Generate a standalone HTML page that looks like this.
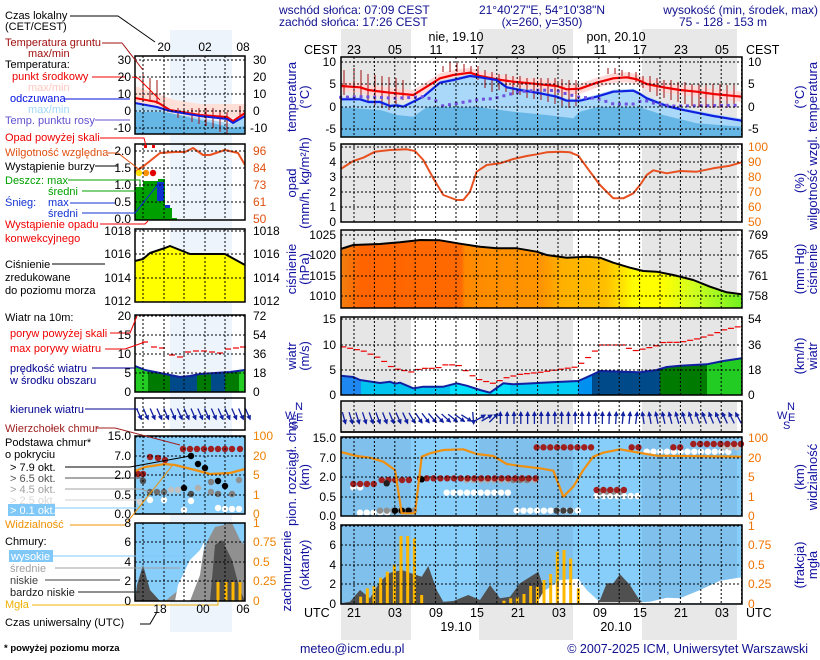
<!DOCTYPE html>
<html><head><meta charset="utf-8"><style>
html,body{margin:0;padding:0;background:#fff;width:820px;height:660px;overflow:hidden}
svg{display:block;font-family:"Liberation Sans",sans-serif;font-size:12px}
</style></head><body>
<svg id="s" width="820" height="660" viewBox="0 0 820 660" xmlns="http://www.w3.org/2000/svg">
<g id="bg"></g>
<g id="g"></g>
<g id="t" fill="#000">
<g fill="#101090" font-size="12">
<text x="279" y="14">wschód słońca: 07:09 CEST</text>
<text x="279" y="26">zachód słońca: 17:26 CEST</text>
<text x="542" y="14" text-anchor="middle">21°40'27"E, 54°10'38"N</text>
<text x="542" y="26" text-anchor="middle">(x=260,  y=350)</text>
<text x="818" y="14" text-anchor="end">wysokość (min, środek, max)</text>
<text x="723" y="26" text-anchor="middle">75 - 128 - 153 m</text>
</g>
<g font-size="12.5">
<text x="456" y="41" text-anchor="middle">nie, 19.10</text>
<text x="616" y="41" text-anchor="middle">pon, 20.10</text>
<text x="304" y="54">CEST</text><text x="746" y="54">CEST</text>
<g text-anchor="middle">
<text x="354" y="54">23</text><text x="395" y="54">05</text><text x="436" y="54">11</text><text x="477" y="54">17</text><text x="518" y="54">23</text><text x="559" y="54">05</text><text x="600" y="54">11</text><text x="640" y="54">17</text><text x="681" y="54">23</text><text x="722" y="54">05</text>
<text x="354" y="617">21</text><text x="395" y="617">03</text><text x="436" y="617">09</text><text x="477" y="617">15</text><text x="518" y="617">21</text><text x="559" y="617">03</text><text x="600" y="617">09</text><text x="640" y="617">15</text><text x="681" y="617">21</text><text x="722" y="617">03</text>
<text x="456" y="631">19.10</text><text x="616" y="631">20.10</text>
</g>
<text x="304" y="617">UTC</text><text x="746" y="617">UTC</text>
</g>
<g text-anchor="end">
<text x="336" y="66">10</text><text x="336" y="88">5</text><text x="336" y="111">0</text><text x="336" y="133">-5</text>
<text x="336" y="151">5</text><text x="336" y="166">4</text><text x="336" y="181">3</text><text x="336" y="196">2</text><text x="336" y="211">1</text><text x="336" y="226">0</text>
<text x="336" y="239">1025</text><text x="336" y="259">1020</text><text x="336" y="280">1015</text><text x="336" y="300">1010</text>
<text x="336" y="323">15</text><text x="336" y="349">10</text><text x="336" y="374">5</text><text x="336" y="399">0</text>
<text x="336" y="442">15.0</text><text x="336" y="462">7.0</text><text x="336" y="481">2.0</text><text x="336" y="501">0.5</text><text x="336" y="520">0.0</text>
<text x="336" y="530">8</text><text x="336" y="549">6</text><text x="336" y="569">4</text><text x="336" y="588">2</text><text x="336" y="608">0</text>
</g>
<g>
<text x="748" y="66">10</text><text x="748" y="88">5</text><text x="748" y="111">0</text><text x="748" y="133">-5</text>
<text x="748" y="239">769</text><text x="748" y="259">765</text><text x="748" y="280">761</text><text x="748" y="300">758</text>
<text x="748" y="323">54</text><text x="748" y="349">36</text><text x="748" y="374">18</text><text x="748" y="399">0</text>
</g>
<g fill="#f07000">
<text x="748" y="151">100</text><text x="748" y="166">90</text><text x="748" y="181">80</text><text x="748" y="196">70</text><text x="748" y="211">60</text><text x="748" y="226">50</text>
<text x="748" y="442">100</text><text x="748" y="462">20</text><text x="748" y="481">5</text><text x="748" y="501">1</text><text x="748" y="520">0</text>
<text x="748" y="530">1</text><text x="748" y="549">0.75</text><text x="748" y="569">0.5</text><text x="748" y="588">0.25</text><text x="748" y="608">0</text>
</g>
<g fill="#1010a0" font-size="13" text-anchor="middle">
<text transform="translate(296,97) rotate(-90)">temperatura</text>
<text transform="translate(309,97) rotate(-90)">(°C)</text>
<text transform="translate(804,97) rotate(-90)">(°C)</text>
<text transform="translate(817,97) rotate(-90)">temperatura</text>
<text transform="translate(296,183) rotate(-90)">opad</text>
<text transform="translate(309,183) rotate(-90)">(mm/h, kg/m²/h)</text>
<text transform="translate(804,183) rotate(-90)">(%)</text>
<text transform="translate(817,183) rotate(-90)">wilgotność wzgl.</text>
<text transform="translate(296,269) rotate(-90)">ciśnienie</text>
<text transform="translate(309,269) rotate(-90)">(hPa)</text>
<text transform="translate(804,269) rotate(-90)">(mm Hg)</text>
<text transform="translate(817,269) rotate(-90)">ciśnienie</text>
<text transform="translate(296,356) rotate(-90)">wiatr</text>
<text transform="translate(309,356) rotate(-90)">(m/s)</text>
<text transform="translate(804,356) rotate(-90)">(km/h)</text>
<text transform="translate(817,356) rotate(-90)">wiatr</text>
<text transform="translate(296,470) rotate(-90)">pion. rozciągł. chm.</text>
<text transform="translate(309,477) rotate(-90)">(km)</text>
<text transform="translate(804,477) rotate(-90)">(km)</text>
<text transform="translate(817,477) rotate(-90)">widzialność</text>
<text transform="translate(291,571) rotate(-90)">zachmurzenie</text>
<text transform="translate(309,565) rotate(-90)">(oktanty)</text>
<text transform="translate(804,565) rotate(-90)">(frakcja)</text>
<text transform="translate(817,565) rotate(-90)">mgła</text>
</g>
<g fill="#1010a0" font-size="11">
<text x="285" y="419">W</text><text x="295" y="410">N</text><text x="296" y="421">E</text><text x="291" y="429">S</text>
<text x="777" y="419">W</text><text x="787" y="410">N</text><text x="788" y="421">E</text><text x="783" y="429">S</text>
</g>
<g fill="#101090" font-size="12.5">
<text x="300" y="653">meteo@icm.edu.pl</text>
<text x="808" y="653" text-anchor="end">© 2007-2025 ICM, Uniwersytet Warszawski</text>
</g>
<text x="4" y="651" font-size="9.5" font-weight="bold">* powyżej poziomu morza</text>
<g text-anchor="end">
<text x="131" y="64">30</text><text x="131" y="81">20</text><text x="131" y="98">10</text><text x="131" y="115">0</text><text x="131" y="132">-10</text>
<text x="131" y="155">2.0</text><text x="131" y="172">1.5</text><text x="131" y="189">1.0</text><text x="131" y="206">0.5</text><text x="131" y="223">0.0</text>
<text x="131" y="235">1018</text><text x="131" y="258">1016</text><text x="131" y="282">1014</text><text x="131" y="305">1012</text>
<text x="131" y="320">20</text><text x="131" y="339">15</text><text x="131" y="358">10</text><text x="131" y="377">5</text><text x="131" y="396">0</text>
<text x="131" y="440">15.0</text><text x="131" y="460">7.0</text><text x="131" y="479">2.0</text><text x="131" y="499">0.5</text><text x="131" y="518">0.0</text>
<text x="131" y="527">8</text><text x="131" y="546">6</text><text x="131" y="566">4</text><text x="131" y="585">2</text><text x="131" y="605">0</text>
</g>
<g>
<text x="253" y="64">30</text><text x="253" y="81">20</text><text x="253" y="98">10</text><text x="253" y="115">0</text><text x="250" y="132">-10</text>
<text x="253" y="235">1018</text><text x="253" y="258">1016</text><text x="253" y="282">1014</text><text x="253" y="305">1012</text>
<text x="253" y="320">72</text><text x="253" y="339">54</text><text x="253" y="358">36</text><text x="253" y="377">18</text><text x="253" y="396">0</text>
</g>
<g fill="#e05010">
<text x="253" y="155">96</text><text x="253" y="172">84</text><text x="253" y="189">73</text><text x="253" y="206">61</text><text x="253" y="223">50</text>
</g>
<g fill="#f08000">
<text x="253" y="440">100</text><text x="253" y="460">20</text><text x="253" y="479">5</text><text x="253" y="499">1</text><text x="253" y="518">0</text>
<text x="253" y="527">1</text><text x="253" y="546">0.75</text><text x="253" y="566">0.5</text><text x="253" y="585">0.25</text><text x="253" y="605">0</text>
</g>
<g text-anchor="middle"><text x="164" y="51">20</text><text x="205" y="51">02</text><text x="243" y="51">08</text>
<text x="160" y="613">18</text><text x="203" y="613">00</text><text x="243" y="613">06</text></g>
<g font-size="11">
<text x="5" y="19">Czas lokalny</text><text x="5" y="30">(CET/CEST)</text>
<text x="5" y="46" fill="#a01010">Temperatura gruntu</text><text x="28" y="57" fill="#a01010">max/min</text>
<text x="5" y="68">Temperatura:</text>
<text x="12" y="80" fill="#f00000">punkt środkowy</text>
<text x="28" y="91" fill="#ffc8c0">max/min</text>
<text x="10" y="102" fill="#0010e0">odczuwana</text>
<text x="28" y="113" fill="#a0d8f8">max/min</text>
<text x="5" y="124" fill="#6050d0">Temp. punktu rosy</text>
<text x="5" y="141" fill="#f00000">Opad powyżej skali</text>
<text x="5" y="156" fill="#e05010">Wilgotność względna</text>
<text x="5" y="170">Wystąpienie burzy</text>
<text x="5" y="184" fill="#00a000">Deszcz: max</text><text x="48" y="195" fill="#00a000">średni</text>
<text x="5" y="206" fill="#1030d0">Śnieg:</text><text x="48" y="206" fill="#1030d0">max</text><text x="48" y="217" fill="#1030d0">średni</text>
<text x="5" y="228" fill="#f00000">Wystąpienie opadu</text><text x="5" y="242" fill="#f00000">konwekcyjnego</text>
<text x="5" y="268">Ciśnienie</text><text x="5" y="281">zredukowane</text><text x="5" y="294">do poziomu morza</text>
<text x="5" y="321">Wiatr na 10m:</text>
<text x="10" y="337" fill="#f00000">poryw powyżej skali</text><text x="10" y="352" fill="#f00000">max porywy wiatru</text>
<text x="10" y="372" fill="#000090">prędkość wiatru</text><text x="10" y="384" fill="#000090">w środku obszaru</text>
<text x="10" y="413" fill="#000090">kierunek wiatru</text>
<text x="5" y="432" fill="#a02020">Wierzchołek chmur</text>
<text x="5" y="446">Podstawa chmur*</text><text x="5" y="458">o pokryciu</text>
<rect x="8" y="504" width="47" height="12" fill="#80c8f8"/>
<text x="10" y="471">&gt; 7.9 okt.</text><text x="10" y="482" fill="#505050">&gt; 6.5 okt.</text>
<text x="10" y="493" fill="#a0a0a0">&gt; 4.5 okt.</text><text x="10" y="504" fill="#d8d8d8">&gt; 2.5 okt.</text>
<text x="10" y="514" fill="#fff">&gt; 0.1 okt.</text>
<text x="5" y="528" fill="#f09000">Widzialność</text>
<text x="5" y="545">Chmury:</text>
<rect x="9" y="550" width="44" height="12" fill="#80c8f8"/>
<text x="11" y="560" fill="#fff">wysokie</text>
<text x="10" y="572" fill="#a0a0a0">średnie</text><text x="10" y="584" fill="#404040">niskie</text>
<text x="10" y="596" fill="#202020">bardzo niskie</text><text x="5" y="608" fill="#f0b000">Mgła</text>
<text x="5" y="626">Czas uniwersalny (UTC)</text>
</g>
</g>
</svg>
<script>
var NS="http://www.w3.org/2000/svg",G=document.getElementById('g'),B=document.getElementById('bg');
function el(p,tag,a){var e=document.createElementNS(NS,tag);for(var k in a)e.setAttribute(k,a[k]);p.appendChild(e);return e;}
function zp(arr,oy){return arr.map(function(p){return [280+p[0]/3,oy+p[1]/3];});}
function pts(a){return a.map(function(p){return p[0].toFixed(1)+','+p[1].toFixed(1);}).join(' ');}
function pl(a,st,w,p){el(p||G,'polyline',{points:pts(a),fill:'none',stroke:st,'stroke-width':w,'stroke-linejoin':'round'});}
function pg(a,f,p){el(p||G,'polygon',{points:pts(a),fill:f});}
function R(x,y,w,h,f,p){el(p||G,'rect',{x:x,y:y,width:w,height:h,fill:f});}
var X0=341,X1=742,nights=[[341,411],[479,573],[642,737]];
nights.forEach(function(n){R(n[0],29,n[1]-n[0],28,'#e8e8e8',B);R(n[0],604,n[1]-n[0],36,'#e8e8e8',B);});
R(170,30,62,602,'#eef4fc',B);
var panels=[[57,137],[144,222],[230,308],[317,395],[401,432],[437,516],[525,604]];
panels.slice(0,5).forEach(function(p){R(X0,p[0],X1-X0,p[1]-p[0],'#fff');nights.forEach(function(n){R(n[0],p[0],n[1]-n[0],p[1]-p[0],'#e6e6e6');});});
panels.slice(5).forEach(function(p){R(X0,p[0],X1-X0,p[1]-p[0],'#87cefa');nights.forEach(function(n){R(n[0],p[0],n[1]-n[0],p[1]-p[0],'#7fc0ec');});});
var red=zp([[182,258],[240,262],[265,270],[330,278],[400,285],[440,260],[480,235],[520,225],[570,218],[600,228],[650,238],[700,245],[750,250],[830,258],[860,268],[900,266],[950,248],[1000,235],[1040,232],[1070,238],[1100,252],[1150,262],[1200,270],[1250,275],[1300,282],[1385,290]],0);
var blue=zp([[182,298],[240,298],[265,306],[300,306],[330,318],[350,316],[370,320],[400,305],[430,290],[480,248],[520,240],[570,228],[600,232],[650,240],[680,262],[720,270],[780,280],[830,290],[860,302],[900,302],[950,290],[1000,275],[1060,272],[1080,282],[1100,295],[1160,318],[1200,328],[1250,338],[1300,348],[1385,362]],0);
var up=red.map(function(p){return [p[0],p[1]-5];}),dn=red.map(function(p){return [p[0],p[1]+5];}).reverse();
pg(up.concat(dn),'#ffd8d8');
pg(blue.map(function(p){return [p[0],p[1]-2];}).concat([[742,137],[341,137]]),'#aad8f8');
var dk=zp([[182,322],[300,330],[350,345],[400,350],[440,322],[600,322],[700,335],[800,345],[880,355],[900,335],[950,322],[1080,322],[1150,345],[1250,370],[1385,380]],0);
pg(dk.concat([[742,137],[341,137]]),'#66b6e6');
[[344,70,95],[354,68,100],[361,70,98],[368,74,102],[375,75,105],[382,76,108],[389,77,110],[396,78,104],[403,80,100],[443,66,72],[450,62,72],[457,63,72],[464,64,72],[471,66,72],[478,66,80],[485,70,88],[492,72,92],[499,74,90],[506,74,92],[513,76,95],[520,76,95],[527,78,98],[534,78,99],[541,78,100],[548,78,102],[555,78,104],[562,79,106],[569,80,108],[576,80,106],[608,68,74],[615,68,74],[622,70,76],[629,72,78],[636,72,82],[643,76,88],[650,76,92],[657,78,96],[664,80,98],[671,80,100],[678,82,102],[685,82,104],[692,84,106],[699,84,107],[706,84,108],[713,84,108],[720,84,108],[727,85,108],[734,85,108]].forEach(function(b){el(G,'line',{x1:b[0],x2:b[0],y1:b[1],y2:b[2],stroke:'#a01010','stroke-width':1});});
pl(red,'#f00000',2.2);pl(blue,'#1020e0',2.2);
var dew=[[182,292],[240,290],[300,292],[340,295],[400,292],[430,290],[465,300],[485,318],[520,312],[560,305],[600,298],[640,296],[680,285],[720,275],[780,270],[830,272],[860,282],[900,292],[950,295],[980,305],[1000,312],[1060,312],[1090,300],[1130,312],[1180,318],[1385,316]];
for(var zx=182;zx<1385;zx+=20.4){var i=0;while(i<dew.length-2&&dew[i+1][0]<zx)i++;var a=dew[i],b=dew[i+1];var zy=a[1]+(b[1]-a[1])*(zx-a[0])/(b[0]-a[0]);el(G,'rect',{x:280+zx/3-1.5,y:zy/3-1.5,width:3,height:3,fill:'#7050e0'});}
pl(zp([[182,102],[220,78],[250,68],[285,50],[330,45],[380,43],[405,48],[430,75],[460,130],[490,180],[530,195],[550,195],[570,170],[590,110],[620,90],[660,85],[700,72],[740,63],[770,58],[800,52],[840,50],[870,52],[895,62],[930,110],[960,150],[1000,190],[1030,190],[1060,175],[1080,150],[1100,120],[1120,106],[1160,115],[1200,108],[1250,110],[1300,100],[1350,92],[1385,82]],135),'#e85020',2);
var gr=el(G,'linearGradient',{id:'pg',x1:341,x2:742,y1:0,y2:0,gradientUnits:'userSpaceOnUse'});
[[0,'#f08010'],[0.05,'#ff6400'],[0.3,'#ff6a00'],[0.31,'#ff8a00'],[0.5,'#ff9500'],[0.55,'#ffb000'],[0.66,'#ffc000'],[0.7,'#ffe000'],[0.73,'#ffff00'],[0.8,'#ffff00'],[0.88,'#d0ff20'],[1,'#70f020']].forEach(function(s){el(gr,'stop',{offset:s[0],'stop-color':s[1]});});
var pr=zp([[182,342],[220,330],[300,327],[360,322],[420,315],[480,316],[540,326],[600,335],[650,340],[710,340],[770,350],[800,360],[860,368],[920,365],[960,368],[1000,383],[1050,398],[1090,408],[1130,410],[1180,420],[1240,435],[1290,455],[1340,472],[1385,478]],135);
pg(pr.concat([[742,308],[341,308]]),'url(#pg)');pl(pr,'#000',2);
var wb=zp([[182,722],[220,726],[240,735],[300,744],[330,740],[345,746],[360,743],[400,760],[430,755],[490,755],[530,745],[560,752],[600,765],[630,773],[670,745],[700,748],[760,745],[830,741],[895,738],[935,720],[960,708],[1030,710],[1080,712],[1130,705],[1160,696],[1200,692],[1280,688],[1330,678],[1385,670]],135);
var cp=el(G,'clipPath',{id:'wc'});pg(wb.concat([[742,395],[341,395]]),'#000',cp);
var wg=el(G,'g',{'clip-path':'url(#wc)'});
[[341,361,'#1e88f0'],[361,450,'#00c4f0'],[450,510,'#00e0ff'],[510,578,'#00ccf4'],[578,592,'#0090f0'],[592,660,'#004a8a'],[660,707,'#007a00'],[707,742,'#22cc22']].forEach(function(s){R(s[0],300,s[1]-s[0],100,s[2],wg);});
pl(wb,'#1020a0',2);
var gust=[[182,634],[250,648],[300,670],[340,700],[400,712],[420,700],[470,700],[500,688],[540,692],[570,718],[600,735],[640,745],[680,728],[720,718],[780,712],[840,703],[895,695],[910,678],[935,660],[960,630],[1030,630],[1060,648],[1100,640],[1130,632],[1150,622],[1200,622],[1250,612],[1300,598],[1330,585],[1385,573]];
for(var zx=190;zx<1385;zx+=20.4){var i=0;while(i<gust.length-2&&gust[i+1][0]<zx)i++;var a=gust[i],b=gust[i+1];var zy=a[1]+(b[1]-a[1])*(zx-a[0])/(b[0]-a[0]);var xx=280+zx/3;el(G,'line',{x1:xx-3,x2:xx+3,y1:135+zy/3,y2:135+zy/3,stroke:'#f00000','stroke-width':1.2});}
function arrow(cx,cy,dx,dy,L,p){var x1=cx-dx*L/2,y1=cy-dy*L/2,x2=cx+dx*L/2,y2=cy+dy*L/2;el(p||G,'line',{x1:x1,y1:y1,x2:x2,y2:y2,stroke:'#1020a0','stroke-width':1.3});var px=-dy,py=dx;pg([[x2+dx*1,y2+dy*1],[x2-dx*4+px*2.5,y2-dy*4+py*2.5],[x2-dx*4-px*2.5,y2-dy*4-py*2.5]],'#1020a0',p);}
for(var x=344;x<742;x+=6.8){var ang;if(x<411)ang=75-(x-341)*0.15;else if(x<470)ang=60-(x-411)*0.5;else if(x<480)ang=85;else if(x<500)ang=(x<490?-30:-45);else if(x<640)ang=-90+(x>600?(x-600)*0.2:0);else ang=-98-(x-640)*0.2;var r=ang*Math.PI/180;arrow(x,418,Math.cos(r),Math.sin(r),12);}
el(G,'line',{x1:341,x2:742,y1:432,y2:432,stroke:'#808080','stroke-width':2});
function dot(x,y,c,p){el(p||G,'circle',{cx:x,cy:y,r:3.2,fill:c});}
function zrow(a,b,step,zy,c){for(var zx=a;zx<=b;zx+=step)dot(280+zx/3,390+zy/3,c);}
zrow(240,330,20.4,368,'#ffffff');zrow(710,900,20.4,362,'#ffffff');zrow(300,420,20.4,362,'#909090');zrow(345,405,20.4,362,'#000');
zrow(500,700,20.4,308,'#ffffff');zrow(220,260,20.4,292,'#ffffff');zrow(950,1080,20.4,318,'#ffffff');zrow(1100,1360,20.4,185,'#ffffff');
zrow(560,780,20.4,270,'#b0b0b0');zrow(700,760,20.4,270,'#808080');zrow(960,1040,20.4,305,'#909090');zrow(1330,1385,20.4,172,'#c0c0c0');
zrow(220,300,20.4,282,'#a02020');zrow(305,400,20.4,270,'#a02020');zrow(420,780,20.4,265,'#a02020');zrow(950,1040,20.4,300,'#a02020');
zrow(770,940,20.4,172,'#a02020');zrow(1055,1080,20.4,172,'#a02020');zrow(1180,1220,20.4,172,'#a02020');zrow(1240,1385,20.4,162,'#a02020');
zrow(425,445,20.4,268,'#000');zrow(830,880,20.4,362,'#404040');zrow(320,320,20,280,'#202020');
pl(zp([[182,186],[230,198],[270,203],[310,215],[345,240],[365,370],[405,370],[425,200],[450,190],[490,180],[550,178],[590,192],[640,198],[680,222],[720,228],[780,235],[820,242],[850,320],[880,290],[910,240],[940,200],[970,188],[1020,178],[1060,185],[1100,192],[1130,197],[1385,200]],390),'#f09010',2.2);
pg(zp([[182,640],[210,635],[240,600],[270,625],[300,575],[330,548],[365,540],[400,552],[425,560],[445,528],[470,600],[490,635],[520,633],[565,615],[600,630],[630,585],[660,625],[690,620],[720,580],[775,545],[800,620],[830,625],[860,590],[880,620],[900,637],[960,630],[980,580],[1000,580],[1020,553],[1050,585],[1075,625],[1090,640],[1370,640],[1385,625],[1385,640]],390),'#505050');
pg(zp([[770,640],[790,605],[840,570],[895,566],[920,600],[960,637],[1080,637],[1110,635],[1160,623],[1200,625],[1260,600],[1320,572],[1385,562],[1385,640]],390),'#ffffff');
var bars=[[242,620],[262,595],[282,588],[302,563],[322,545],[343,523],[363,438],[383,438],[403,445],[425,615],[672,632],[692,625],[712,622],[732,612],[752,588],[772,590],[792,570],[812,552],[832,485],[852,480],[872,505],[895,595]];
bars.forEach(function(b){var x=280+b[0]/3,y=390+b[1]/3;R(x-1.5,y,3,604-y,'#ffb800');});
function grid(y0,y1,hs){hs.forEach(function(y){el(G,'line',{x1:X0,x2:X1,y1:y,y2:y,stroke:'#000','stroke-width':1,'stroke-dasharray':'2,2'});});for(var x=354;x<X1;x+=20.4)el(G,'line',{x1:x,x2:x,y1:y0,y2:y1,stroke:'#000','stroke-width':1,'stroke-dasharray':'2,2'});el(G,'rect',{x:X0,y:y0,width:X1-X0,height:y1-y0,fill:'none',stroke:'#000','stroke-width':1.5});}
grid(57,137,[62,84,107,129]);grid(144,222,[147,162,177,192,207]);grid(230,308,[235,255,276,296]);grid(317,395,[319,345,370]);grid(401,432,[]);grid(437,516,[438,458,477,497]);grid(525,604,[526,545,565,584]);
var L0=135,L1=245;
function lgrid(y0,y1,hs){hs.forEach(function(y){el(G,'line',{x1:L0,x2:L1,y1:y,y2:y,stroke:'#000','stroke-dasharray':'2,2'});});[143,164,184,205,225].forEach(function(x){el(G,'line',{x1:x,x2:x,y1:y0,y2:y1,stroke:'#000','stroke-dasharray':'2,2'});});el(G,'rect',{x:L0,y:y0,width:L1-L0,height:y1-y0,fill:'none',stroke:'#000','stroke-width':1.5});}
[[56,134],[144,220],[229,302],[315,392],[398,430]].forEach(function(p){R(L0,p[0],L1-L0,p[1]-p[0],'#fff');R(170,p[0],62,p[1]-p[0],'#eef4fc');});
R(L0,436,110,78,'#87cefa');R(L0,523,110,78,'#87cefa');
pg([[135,86],[160,95],[175,100],[200,104],[245,104],[245,118],[135,118]],'#ffe0d8');
pg([[135,103],[157,108],[170,113],[200,118],[233,124],[245,117],[245,134],[135,134]],'#aad8f8');
pg([[135,112],[160,112],[170,113],[200,120],[233,128],[245,126],[245,134],[135,134]],'#66b6e6');
[[143,72,100],[150,78,102],[157,80,104],[164,95,108],[178,108,118],[192,108,122],[199,108,124],[206,108,126],[213,108,128],[220,110,132],[227,112,134],[240,106,116]].forEach(function(b){el(G,'line',{x1:b[0],x2:b[0],y1:b[1],y2:b[2],stroke:'#a01010'});});
pl([[135,98],[157,102],[170,110],[200,115],[227,117],[233,121],[245,113]],'#f00000',2);
pl([[135,103],[157,107],[170,111],[200,116],[227,119],[233,123],[245,116]],'#1020e0',2);
R(135,187,8,33,'#00a000');R(143,181,15,39,'#00a000');R(158,179,7,41,'#00a000');R(165,208,7,12,'#00a000');R(172,218,5,2,'#00a000');
R(157,182,7,19,'#1030d0');R(165,205,5,3,'#1030d0');
pl([[135,172],[145,165],[160,153],[175,152],[185,152],[193,148],[203,155],[210,155],[225,150],[238,153],[245,165]],'#e85020',2);
dot(139,173,'#ffe000');dot(146,173,'#ff9000');dot(153,173,'#e00000');R(144,145,3,3,'#f00000');R(152,145,3,3,'#f00000');
var lp=[[135,261],[143,259],[150,253],[165,248],[170,246],[180,250],[190,254],[225,254],[245,265]];
pg(lp.concat([[245,302],[135,302]]),'#ffff00');pl(lp,'#000',2);
var lw=[[135,366],[145,370],[160,373],[180,377],[190,376],[200,374],[230,372],[245,370]];
var lc=el(G,'clipPath',{id:'lwc'});pg(lw.concat([[245,392],[135,392]]),'#000',lc);var lg=el(G,'g',{'clip-path':'url(#lwc)'});
[[135,148,'#22cc22'],[148,170,'#007a00'],[170,197,'#004a8a'],[197,211,'#007a00'],[211,225,'#004a8a'],[225,239,'#007a00'],[239,245,'#22cc22']].forEach(function(s){R(s[0],340,s[1]-s[0],60,s[2],lg);});
pl(lw,'#1020a0',2);
[[145,342],[154,347],[162,348],[172,355],[180,357],[188,352],[196,351],[204,351],[212,352],[220,353],[228,349],[236,348],[243,347]].forEach(function(d){el(G,'line',{x1:d[0]-3,x2:d[0]+3,y1:d[1],y2:d[1],stroke:'#f00000','stroke-width':1.2});});
for(var x=139;x<250;x+=6.8)arrow(x,414,0.4,0.92,12);
[[138,474,'#a02020'],[143,474,'#a02020'],[150,457,'#a02020'],[158,458,'#a02020'],[165,460,'#a02020'],[183,449,'#a02020'],[190,449,'#a02020'],[197,449,'#a02020'],[204,449,'#a02020'],[211,449,'#a02020'],[218,449,'#a02020'],[225,449,'#a02020'],[232,449,'#a02020'],[240,449,'#a02020'],[191,456,'#000'],[198,464,'#000'],[205,468,'#000'],[218,481,'#000'],[225,486,'#000'],[184,488,'#000'],[143,481,'#505050'],[150,492,'#606060'],[157,492,'#707070'],[164,492,'#707070'],[171,490,'#c0c0c0'],[178,490,'#c0c0c0'],[191,494,'#505050'],[198,488,'#b0b0b0'],[211,482,'#808080'],[211,492,'#909090'],[218,494,'#707070'],[232,494,'#808080'],[239,480,'#909090'],[150,500,'#ffffff'],[164,500,'#ffffff'],[191,501,'#ffffff'],[218,508,'#ffffff'],[225,509,'#ffffff'],[232,509,'#ffffff'],[239,509,'#ffffff'],[184,510,'#ffffff'],[140,502,'#d0d0d0']].forEach(function(d){dot(d[0],d[1],d[2]);});
pl([[135,471],[145,467],[165,464],[175,465],[195,470],[210,474],[230,473],[245,469]],'#f09010',2.2);
pg([[165,601],[185,585],[200,560],[208,540],[215,527],[232,523],[240,540],[245,545],[245,601]],'#909090');
pg([[175,601],[178,585],[190,560],[200,550],[205,540],[200,575],[190,601]],'#ffffff');
pg([[210,601],[215,545],[222,540],[232,560],[240,590],[245,601]],'#505050');
pg([[135,601],[137,585],[143,565],[150,590],[160,601]],'#505050');
[218,226,233,240].forEach(function(x){R(x-1.5,582,3,19,'#ffb800');});
lgrid(56,134,[60,77,94,111,128]);lgrid(144,220,[151,168,185,202]);lgrid(229,302,[231,254,278]);lgrid(315,392,[316,335,354,373]);lgrid(398,430,[]);lgrid(436,514,[437,456,475,495]);lgrid(523,601,[523,542,562,581]);
function ln(a,c){pl(a,c||'#000',1);}
ln([[70,16],[118,16],[155,42]]);ln([[102,43],[122,43],[143,70]],'#a01010');ln([[92,77],[126,77]],'#f00000');ln([[132,77],[138,78],[160,100]],'#f00000');
ln([[64,99],[130,99]],'#0010e0');ln([[95,120],[130,120]],'#6050d0');ln([[100,138],[144,138],[146,146]],'#f00000');ln([[108,153],[118,153],[140,170]],'#e05010');
ln([[95,166],[118,166]]);ln([[68,180],[140,180],[140,190]],'#00a000');ln([[82,191],[150,191],[150,200]],'#00a000');ln([[70,203],[116,203]],'#1030d0');ln([[82,213],[135,213],[160,182]],'#1030d0');
ln([[100,224],[145,224],[148,221]],'#f00000');ln([[52,264],[105,264]]);ln([[110,333],[130,333],[137,316]],'#f00000');ln([[105,349],[125,349],[145,342]],'#f00000');
ln([[92,368],[135,368]],'#000090');ln([[85,409],[138,409]],'#000090');ln([[96,428],[115,428],[180,445]],'#a02020');ln([[65,467],[130,467],[190,456]]);ln([[65,478],[143,478]],'#505050');
ln([[65,489],[140,489],[150,492]],'#a0a0a0');ln([[65,500],[140,500]],'#d0d0d0');ln([[55,508],[140,508]],'#80c8f8');ln([[70,525],[125,525],[172,466]],'#f09000');
ln([[53,556],[190,556]],'#80c8f8');ln([[55,568],[180,568]],'#a0a0a0');ln([[45,580],[120,580]],'#404040');ln([[78,592],[140,592]],'#202020');ln([[32,605],[218,605],[218,590]],'#f0b000');ln([[140,624],[150,624],[157,612]]);
</script>
</body></html>
